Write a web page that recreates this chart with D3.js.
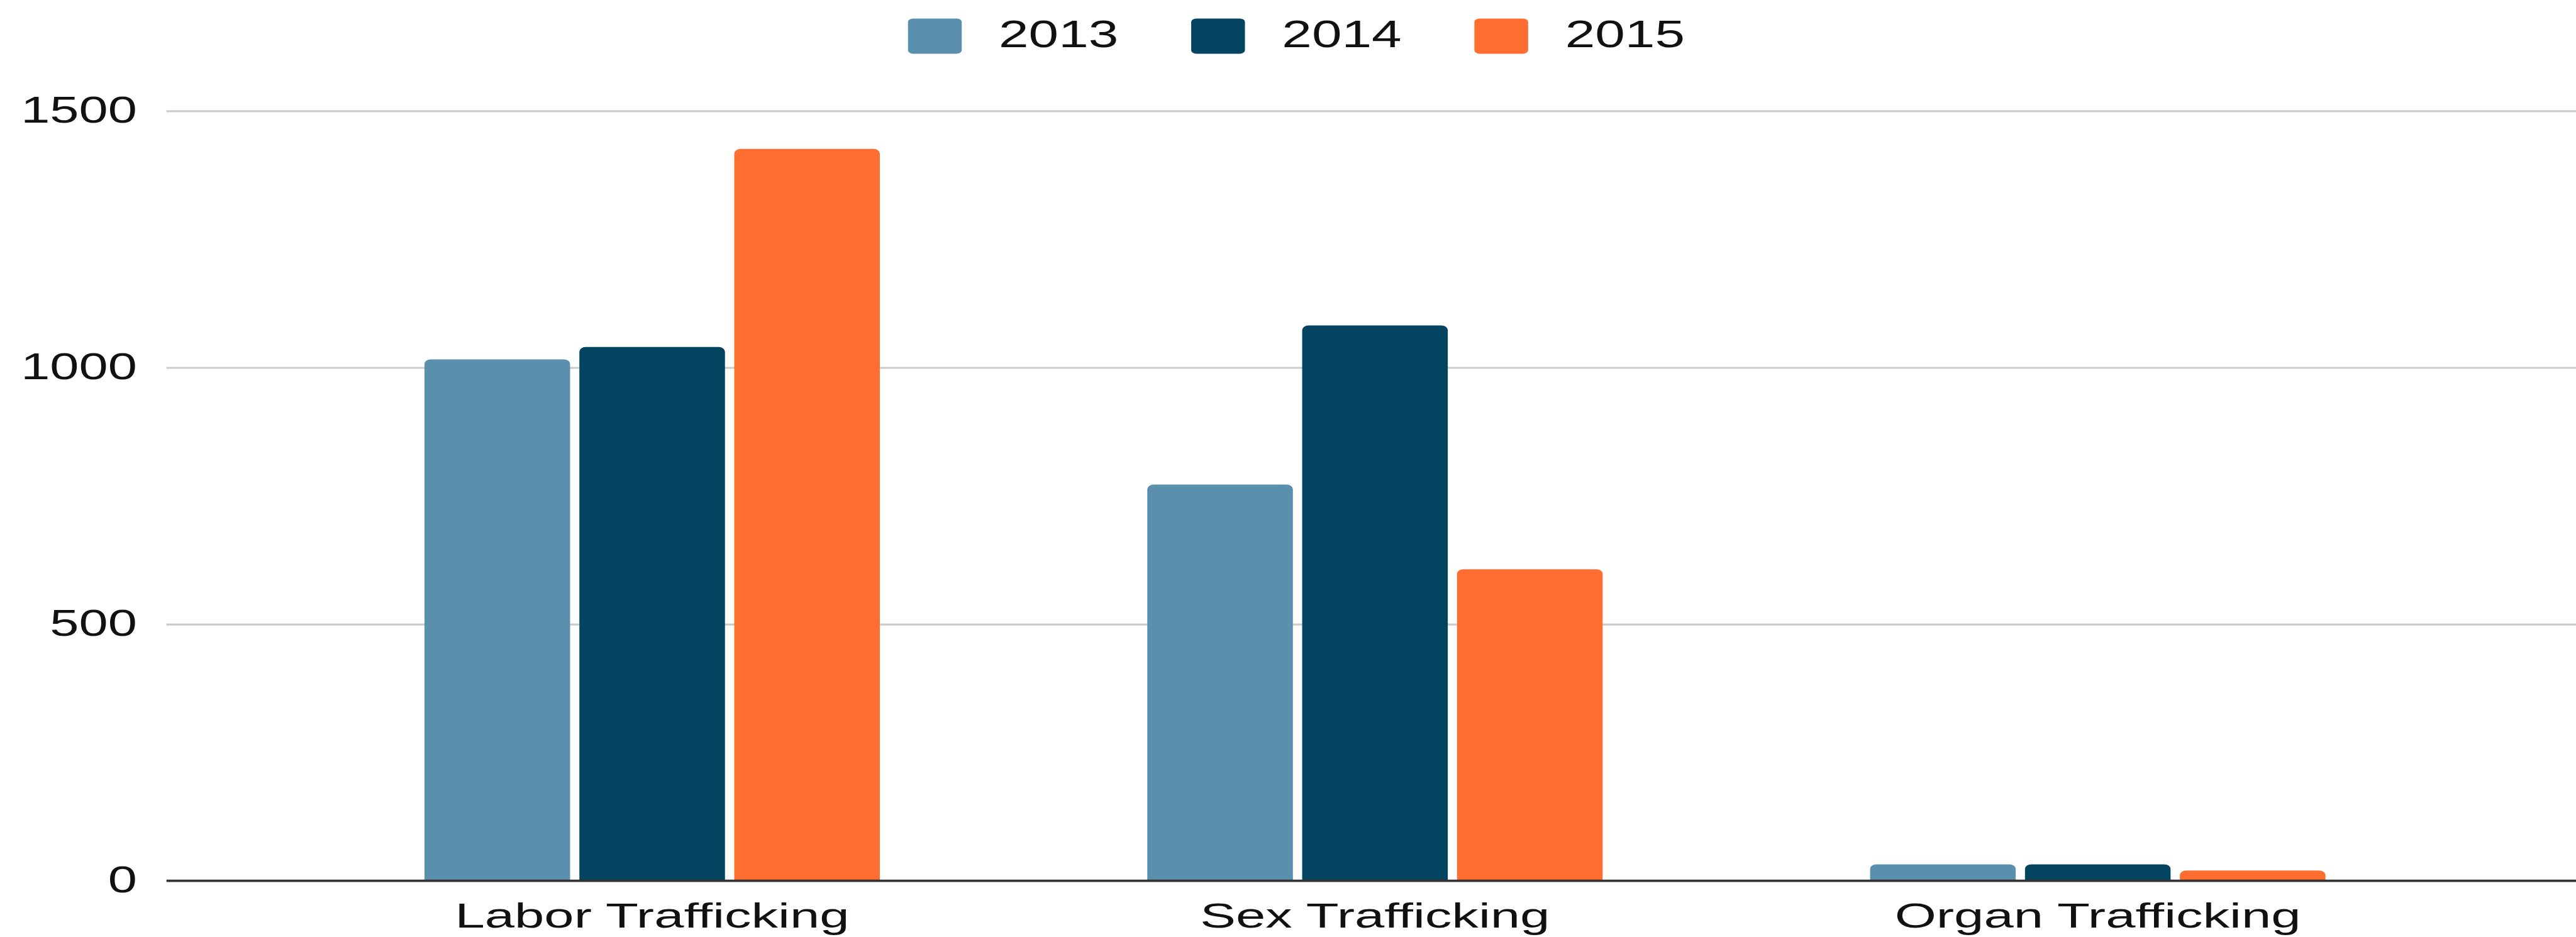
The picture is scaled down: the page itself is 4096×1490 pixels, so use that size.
<!DOCTYPE html>
<html>
<head>
<meta charset="utf-8">
<script src="https://cdn.jsdelivr.net/npm/d3@7"></script>
<style>
  html, body { margin: 0; padding: 0; background: #ffffff; }
  svg { display: block; }
</style>
</head>
<body>
<script>
// ---- data ----
const categories = ["Labor Trafficking", "Sex Trafficking", "Organ Trafficking"];
const years = ["2013", "2014", "2015"];
const values2013 = [1016, 772, 32];
const values2014 = [1040, 1082, 32];
const values2015 = [1426, 607, 20];
const yTicks = [0, 500, 1000, 1500];
const colors = ["#5a8fad", "#034560", "#ff6d31"];

// ---- layout (reference px scaled by S) ----
const S = 0.919;
const W = 4096, H = 1490;
const plotLeft = 288 * S, plotRight = 4470 * S;
const yZero = 1524 * S, yTop = 192 * S;
const font = "'Liberation Sans', Arial, Helvetica, sans-serif";

const series = [values2013, values2014, values2015];
const table = categories.map((c, i) => ({
  category: c,
  vals: years.map((y, j) => ({ year: y, value: series[j][i], idx: j }))
}));

const svg = d3.select("body").append("svg")
  .attr("width", W).attr("height", H)
  .attr("viewBox", `0 0 ${W} ${H}`);
svg.append("rect").attr("width", W).attr("height", H).attr("fill", "#ffffff");

const x0 = d3.scaleBand().domain(categories)
  .range([plotLeft, plotRight]).paddingInner(0.37).paddingOuter(0.357);
const x1 = d3.scaleBand().domain(years)
  .range([0, x0.bandwidth()]).paddingInner(0.06).paddingOuter(0);
const y = d3.scaleLinear().domain([0, 1500]).range([yZero, yTop]);

function stretch(sel, f) {
  sel.each(function () {
    const w = this.getComputedTextLength();
    d3.select(this).attr("textLength", w * f).attr("lengthAdjust", "spacingAndGlyphs");
  });
}

// ---- y axis with gridlines ----
const yAxis = d3.axisLeft(y).tickValues(yTicks).tickSize(-(W - plotLeft)).tickPadding(0)
  .tickFormat(d3.format("d"));
const gy = svg.append("g").attr("transform", `translate(${plotLeft},0)`).call(yAxis);
gy.select(".domain").remove();
gy.selectAll(".tick line").attr("stroke", "#cccccc").attr("stroke-width", 3.5 * S)
  .filter(d => d === 0).remove();
gy.selectAll(".tick text")
  .attr("x", (237 - 288) * S).attr("dy", 0).attr("y", 20 * S)
  .attr("fill", "#111111")
  .style("font-family", font).style("font-size", (65 * S) + "px")
  .attr("text-anchor", "end");
stretch(gy.selectAll(".tick text"), 1.39);

// ---- bars ----
function topRounded(x, yy, w, h, rx, ry) {
  rx = Math.min(rx, w / 2); ry = Math.min(ry, h);
  return `M${x},${yy + h}V${yy + ry}A${rx},${ry} 0 0 1 ${x + rx},${yy}H${x + w - rx}A${rx},${ry} 0 0 1 ${x + w},${yy + ry}V${yy + h}Z`;
}
const groups = svg.append("g").selectAll("g").data(table).join("g")
  .attr("transform", d => `translate(${x0(d.category)},0)`);
groups.selectAll("path").data(d => d.vals).join("path")
  .attr("fill", d => colors[d.idx])
  .attr("d", d => topRounded(x1(d.year), y(d.value), x1.bandwidth(), yZero - y(d.value), 11 * S, 8 * S));

// ---- x axis ----
const xAxis = d3.axisBottom(x0).tickSize(0).tickSizeOuter(0).tickPadding(0);
const gx = svg.append("g").attr("transform", `translate(0,${yZero})`).call(xAxis);
gx.select(".domain").attr("stroke", "#333333").attr("stroke-width", 4 * S)
  .attr("d", `M${plotLeft},0H${W}`);
gx.selectAll(".tick text")
  .attr("y", 81 * S).attr("dy", 0)
  .attr("fill", "#111111")
  .style("font-family", font).style("font-size", (60.5 * S) + "px");
stretch(gx.selectAll(".tick text"), 1.53);

// ---- legend ----
const legendX0 = 1571 * S, legendStep = 490 * S;
const leg = svg.append("g").selectAll("g").data(years).join("g")
  .attr("transform", (d, i) => `translate(${legendX0 + i * legendStep},0)`);
leg.append("rect")
  .attr("x", 0).attr("y", 32 * S).attr("width", 93 * S).attr("height", 61 * S)
  .attr("rx", 9 * S).attr("ry", 6 * S)
  .attr("fill", (d, i) => colors[i]);
const legText = leg.append("text")
  .attr("x", 157 * S).attr("y", 82 * S)
  .attr("fill", "#111111")
  .style("font-family", font).style("font-size", (67 * S) + "px")
  .text(d => d);
stretch(legText, 1.39);
</script>
</body>
</html>
